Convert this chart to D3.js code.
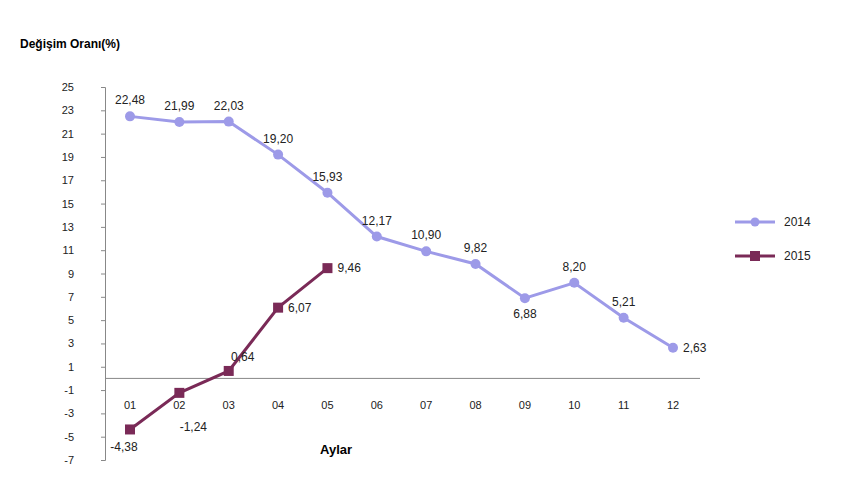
<!DOCTYPE html>
<html><head><meta charset="utf-8">
<script src="https://cdn.jsdelivr.net/npm/d3@7"></script>
<style>body{margin:0;background:#fff}text{font-family:Arial,"Liberation Sans",sans-serif}</style>
</head><body><svg id="c" width="860" height="480"></svg>
<script>
const months=["01","02","03","04","05","06","07","08","09","10","11","12"];
const v2014=[22.48,21.99,22.03,19.20,15.93,12.17,10.90,9.82,6.88,8.20,5.21,2.63];
const v2015=[-4.38,-1.24,0.64,6.07,9.46];
const yTicks=[25,23,21,19,17,15,13,11,9,7,5,3,1,-1,-3,-5,-7];
const pos2014=[[0,-12,"middle"],[0,-12,"middle"],[0,-12,"middle"],[0,-12,"middle"],[0,-12,"middle"],[0,-12,"middle"],[0,-12,"middle"],[0,-12,"middle"],[0,20,"middle"],[0,-12,"middle"],[0,-12,"middle"],[10,4,"start"]];
const pos2015=[[-6,22,"middle"],[14,38,"middle"],[14,-10,"middle"],[10,4,"start"],[10,4,"start"]];
const svg=d3.select("#c");
const x=d3.scalePoint().domain(months).range([130,673]);
const y=d3.scaleLinear().domain([-7,25]).range([460,87]);
const fmt=v=>v.toFixed(2).replace(".",",");
svg.append("text").attr("x",20).attr("y",48).attr("font-size",12).attr("font-weight","bold").text("Değişim Oranı(%)");
const ya=svg.append("g").attr("transform","translate(105,0)").call(d3.axisLeft(y).tickValues(yTicks).tickSize(4).tickFormat(d=>String(d)));
ya.selectAll("text").attr("font-size",11).attr("fill","#222").attr("dx",-24);
ya.selectAll("line").attr("stroke","#888");
ya.select(".domain").attr("stroke","#888");
svg.append("line").attr("x1",105).attr("x2",700).attr("y1",y(0)).attr("y2",y(0)).attr("stroke","#888");
months.forEach(m=>svg.append("text").attr("x",x(m)).attr("y",409).attr("text-anchor","middle").attr("font-size",11).attr("fill","#222").text(m));
svg.append("text").attr("x",320).attr("y",454).attr("font-size",13).attr("font-weight","bold").text("Aylar");
const line=d3.line().x((d,i)=>x(months[i])).y(d=>y(d));
const c1="#9d9ae8",c2="#7a2a57";
svg.append("path").attr("d",line(v2014)).attr("fill","none").attr("stroke",c1).attr("stroke-width",3);
svg.selectAll(".p1").data(v2014).join("circle").attr("cx",(d,i)=>x(months[i])).attr("cy",d=>y(d)).attr("r",5).attr("fill",c1);
svg.append("path").attr("d",line(v2015)).attr("fill","none").attr("stroke",c2).attr("stroke-width",3);
svg.selectAll(".p2").data(v2015).join("rect").attr("x",(d,i)=>x(months[i])-5).attr("y",d=>y(d)-5).attr("width",10).attr("height",10).attr("fill",c2);
v2014.forEach((d,i)=>svg.append("text").attr("x",x(months[i])+pos2014[i][0]).attr("y",y(d)+pos2014[i][1]).attr("text-anchor",pos2014[i][2]).attr("font-size",12).attr("fill","#222").text(fmt(d)));
v2015.forEach((d,i)=>svg.append("text").attr("x",x(months[i])+pos2015[i][0]).attr("y",y(d)+pos2015[i][1]).attr("text-anchor",pos2015[i][2]).attr("font-size",12).attr("fill","#222").text(fmt(d)));
[["2014",c1,"c",222],["2015",c2,"r",256]].forEach(([t,c,s,yy])=>{
 svg.append("line").attr("x1",735).attr("x2",775).attr("y1",yy).attr("y2",yy).attr("stroke",c).attr("stroke-width",3);
 if(s=="c")svg.append("circle").attr("cx",755).attr("cy",yy).attr("r",4.5).attr("fill",c);
 else svg.append("rect").attr("x",750).attr("y",yy-5).attr("width",10).attr("height",10).attr("fill",c);
 svg.append("text").attr("x",784).attr("y",yy+4).attr("font-size",12).attr("fill","#222").text(t);
});
</script></body></html>
